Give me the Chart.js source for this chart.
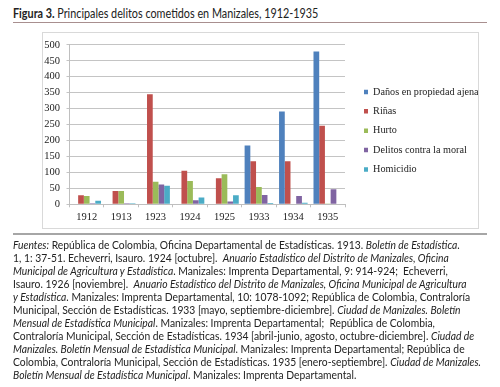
<!DOCTYPE html>
<html>
<head>
<meta charset="utf-8">
<script src="https://cdn.jsdelivr.net/npm/chart.js@4"></script>
<style>
  body { margin: 0; background: #fff; }
  #page { position: relative; width: 500px; height: 387px; overflow: hidden; }
  #title { position: absolute; left: 13px; top: 6px; font: 12.5px Lato, sans-serif; color: #222; white-space: nowrap; transform-origin: 0 0; }
  #title b { font-weight: 700; }
  #rule1 { position: absolute; left: 13px; top: 22px; width: 474px; height: 1px; background: #a88f8f; }
  #box { position: absolute; left: 42px; top: 32px; width: 437px; height: 197px; }
  #frame { position: absolute; left: 0; top: 0; width: 437px; height: 197px; box-sizing: border-box; border: 1px solid #d9d9d9; pointer-events: none; }
  #wrap { position: absolute; left: 0; top: 0; width: 460px; height: 197px; }
  #rule2 { position: absolute; left: 13px; top: 233px; width: 474px; height: 2px; background: #a6a6a6; }
  #notes { position: absolute; left: 13px; top: 238px; font: 11px Lato, sans-serif; line-height: 13px; color: #222; white-space: nowrap; transform-origin: 0 0; }
</style>
</head>
<body>
<div id="page">
  <div id="title"><b>Figura 3.</b> Principales delitos cometidos en Manizales, 1912-1935</div>
  <div id="rule1"></div>
  <div id="box">
    <div id="wrap"><canvas id="chart"></canvas></div>
    <div id="frame"></div>
  </div>
  <div id="rule2"></div>
  <div id="notes">
    <i>Fuentes:</i> República de Colombia, Oficina Departamental de Estadísticas. 1913. <i>Boletín de Estadística</i>.<br>
    1, 1: 37-51. Echeverri, Isauro. 1924 [octubre].&nbsp; <i>Anuario Estadístico del Distrito de Manizales, Oficina</i><br>
    <i>Municipal de Agricultura y Estadística</i>. Manizales: Imprenta Departamental, 9: 914-924;&nbsp; Echeverri,<br>
    Isauro. 1926 [noviembre].&nbsp; <i>Anuario Estadístico del Distrito de Manizales, Oficina Municipal de Agricultura</i><br>
    <i>y Estadística</i>. Manizales: Imprenta Departamental, 10: 1078-1092; República de Colombia, Contraloría<br>
    Municipal, Sección de Estadísticas. 1933 [mayo, septiembre-diciembre]. <i>Ciudad de Manizales. Boletín</i><br>
    <i>Mensual de Estadística Municipal</i>. Manizales: Imprenta Departamental;&nbsp; República de Colombia,<br>
    Contraloría Municipal, Sección de Estadísticas. 1934 [abril-junio, agosto, octubre-diciembre]. <i>Ciudad de</i><br>
    <i>Manizales. Boletín Mensual de Estadística Municipal</i>. Manizales: Imprenta Departamental; República de<br>
    Colombia, Contraloría Municipal, Sección de Estadísticas. 1935 [enero-septiembre]. <i>Ciudad de Manizales.</i><br>
    <i>Boletín Mensual de Estadística Municipal</i>. Manizales: Imprenta Departamental.
  </div>
</div>
<script>
const years = ['1912', '1913', '1923', '1924', '1925', '1933', '1934', '1935']
const danos = [null, null, null, null, null, 184, 291, 479]
const rinas = [28, 42, 345, 105, 82, 135, 135, 246]
const hurto = [26, 42, 71, 73, 94, 54, 2, 1]
const moral = [3, 3, 62, 13, 9, 29, 26, 47]
const homicidio = [11, 3, 58, 21, 28, 4, 5, 2]
const yTicks = [0, 50, 100, 150, 200, 250, 300, 350, 400, 450, 500]

// squeeze the text blocks to the widths they have in the figure
function fitWidth(el, target) {
  const w = el.scrollWidth
  el.style.transform = 'scaleX(' + (target / w) + ')'
}
fitWidth(document.querySelector('#title'), 305)
fitWidth(document.querySelector('#notes'), 468)

const serif = '"Liberation Serif", "Times New Roman", serif'
const tickFont = 10.5
const legendFont = 10.2
const boxW = 4
const legendPad = 9.2

function draw() {
  // legend squares start at x=322 inside the canvas, plot ends at 303
  const mctx = document.createElement('canvas').getContext('2d')
  mctx.font = legendFont + 'px ' + serif
  const itemW = boxW + legendFont / 2 + mctx.measureText('Daños en propiedad ajena').width
  const padRight = 460 - 10 - itemW - 322
  const gapW = 322 - legendPad - 303

  const ctx = document.querySelector('#chart')
  new Chart(ctx, {
    type: 'bar',
    data: {
      labels: years,
      datasets: [
        { label: 'Daños en propiedad ajena', data: danos, backgroundColor: '#4F81BD' },
        { label: 'Riñas', data: rinas, backgroundColor: '#C0504D' },
        { label: 'Hurto', data: hurto, backgroundColor: '#9BBB59' },
        { label: 'Delitos contra la moral', data: moral, backgroundColor: '#8064A2' },
        { label: 'Homicidio', data: homicidio, backgroundColor: '#4BACC6' }
      ]
    },
    options: {
      responsive: true,
      maintainAspectRatio: false,
      animation: false,
      datasets: {
        bar: { categoryPercentage: 0.83, barPercentage: 1, borderWidth: 0 }
      },
      layout: { padding: { top: 0.4, left: 1, bottom: 0, right: padRight } },
      scales: {
        x: {
          grid: { drawOnChartArea: false, tickLength: 3, color: '#bfbfbf' },
          border: { color: '#bfbfbf' },
          ticks: { padding: 3.4, color: '#222', font: { family: serif, size: tickFont } },
          afterFit: (axis) => { axis.height = 24.7 }
        },
        y: {
          min: 0,
          max: 500,
          afterBuildTicks: (axis) => { axis.ticks = yTicks.map(v => ({ value: v })) },
          grid: { color: '#c4c4c4', tickLength: 3 },
          border: { display: true, color: '#bfbfbf' },
          ticks: { autoSkip: false, padding: 6.5, color: '#222', font: { family: serif, size: tickFont } },
          afterFit: (axis) => { axis.width = 26.5 }
        },
        gap: {
          position: 'right',
          grid: { display: false },
          border: { display: false },
          ticks: { display: false },
          afterFit: (axis) => { axis.width = gapW }
        }
      },
      plugins: {
        legend: {
          position: 'right',
          maxWidth: 200,
          labels: {
            boxWidth: boxW,
            boxHeight: 4.5,
            padding: legendPad,
            color: '#222',
            font: { family: serif, size: legendFont }
          }
        },
        tooltip: { enabled: false }
      }
    }
  })
}

document.fonts.load(tickFont + 'px "Liberation Serif"').then(draw, draw)
</script>
</body>
</html>
